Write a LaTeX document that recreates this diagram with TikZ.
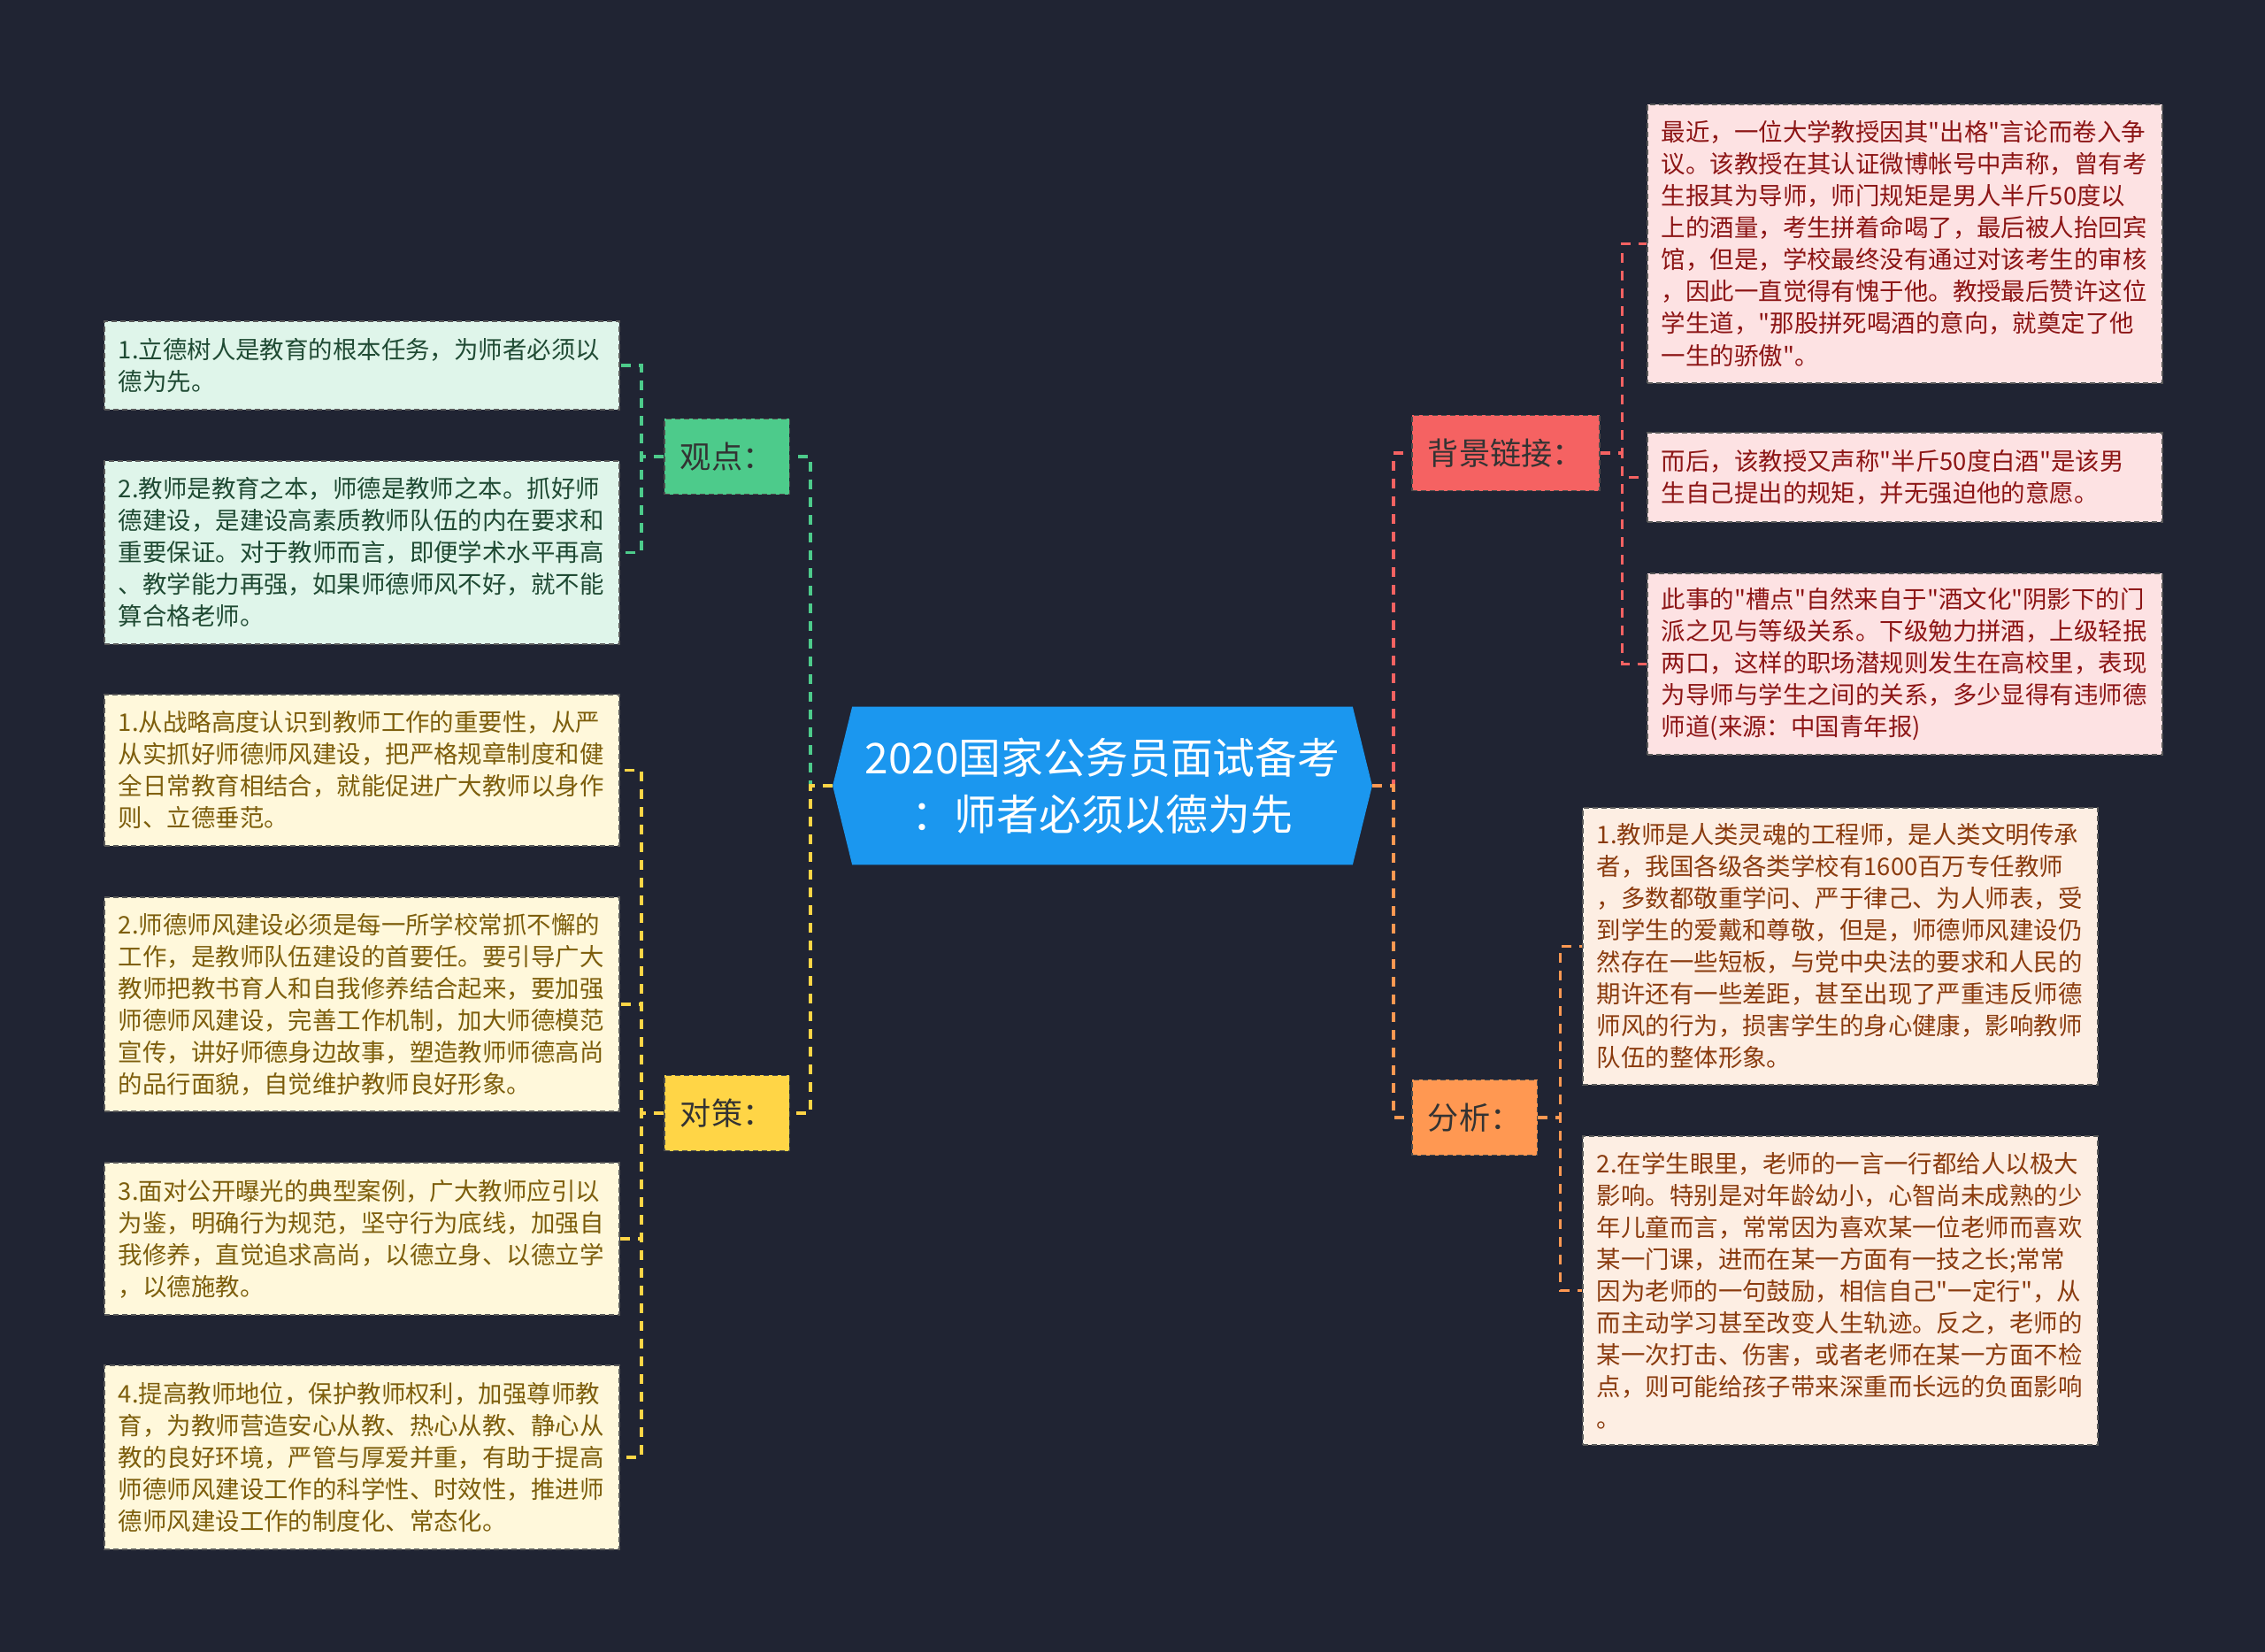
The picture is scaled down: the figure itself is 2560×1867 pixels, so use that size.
\documentclass[tikz,border=0pt]{standalone}
\usepackage{fontspec}
\newfontfamily\cjk{Noto Sans CJK SC}
\usepackage{tikz}
\usetikzlibrary{backgrounds}

\definecolor{bgnavy}{HTML}{202433}
\definecolor{rootblue}{HTML}{1B97EF}
\definecolor{gdgreen}{HTML}{4DCB8B}
\definecolor{dcyellow}{HTML}{FFD546}
\definecolor{bjred}{HTML}{F56262}
\definecolor{fxorange}{HTML}{FF9852}
\definecolor{gdleaf}{HTML}{DFF5EA}
\definecolor{dcleaf}{HTML}{FFF8DB}
\definecolor{bjleaf}{HTML}{FDE2E3}
\definecolor{fxleaf}{HTML}{FDEEE3}
\definecolor{gdtext}{HTML}{1F4A33}
\definecolor{dctext}{HTML}{7D5E0C}
\definecolor{bjtext}{HTML}{8C1515}
\definecolor{fxtext}{HTML}{8A3B0E}

\begin{document}
\begin{tikzpicture}[
    x=0.01cm, y=-0.01cm,
    root/.style={
        font=\cjk\fontsize{13.6pt}{18.2pt}\selectfont,
        text=white,
        align=center,
        minimum width=5.64cm,
        minimum height=1.77cm,
        inner sep=0pt
    },
    branch/.style={
        draw=black!70,
        dash pattern=on 0.06cm off 0.04cm,
        line width=0.55pt,
        font=\cjk\fontsize{10pt}{12pt}\selectfont,
        text=black!80,
        minimum height=0.85cm,
        inner xsep=0.18cm,
        anchor=west
    },
    leaf/.style={
        draw=black!65,
        dash pattern=on 0.06cm off 0.04cm,
        line width=0.5pt,
        font=\cjk\fontsize{7.8pt}{10.24pt}\selectfont,
        text width=5.5cm,
        align=left,
        inner xsep=0.16cm,
        anchor=north west
    },
    link/.style={
        dash pattern=on 0.11cm off 0.09cm,
        line width=0.95pt
    }
]
% Centre topic
\node[root] (root) at (1246,888) {2020国家公务员面试备考\\：师者必须以德为先};
\coordinate (rootL) at ([xshift=-0.22cm]root.west);
\coordinate (rootR) at ([xshift=0.22cm]root.east);

% Background and topic shape
\begin{scope}[on background layer]
    \fill[bgnavy] (0,0) rectangle (2560,1867);
    \fill[rootblue] (root.north west) -- (root.north east) -- (rootR)
        -- (root.south east) -- (root.south west) -- (rootL) -- cycle;
\end{scope}

% Main branches
\node[branch, fill=gdgreen] (gd) at (750,516) {观点：};
\node[branch, fill=dcyellow] (dc) at (750,1258) {对策：};
\node[branch, fill=bjred] (bj) at (1595,512) {背景链接：};
\node[branch, fill=fxorange] (fx) at (1595,1263) {分析：};

% Left leaves
\node[leaf, fill=gdleaf, text=gdtext, minimum height=1.00cm] (gd1) at (117,362)
    {1.立德树人是教育的根本任务，为师者必须以\\德为先。};
\node[leaf, fill=gdleaf, text=gdtext, minimum height=2.07cm] (gd2) at (117,520)
    {2.教师是教育之本，师德是教师之本。抓好师\\德建设，是建设高素质教师队伍的内在要求和\\重要保证。对于教师而言，即便学术水平再高\\、教学能力再强，如果师德师风不好，就不能\\算合格老师。};
\node[leaf, fill=dcleaf, text=dctext, minimum height=1.71cm] (dc1) at (117,784)
    {1.从战略高度认识到教师工作的重要性，从严\\从实抓好师德师风建设，把严格规章制度和健\\全日常教育相结合，就能促进广大教师以身作\\则、立德垂范。};
\node[leaf, fill=dcleaf, text=dctext, minimum height=2.42cm] (dc2) at (117,1013)
    {2.师德师风建设必须是每一所学校常抓不懈的\\工作，是教师队伍建设的首要任。要引导广大\\教师把教书育人和自我修养结合起来，要加强\\师德师风建设，完善工作机制，加大师德模范\\宣传，讲好师德身边故事，塑造教师师德高尚\\的品行面貌，自觉维护教师良好形象。};
\node[leaf, fill=dcleaf, text=dctext, minimum height=1.72cm] (dc3) at (117,1313)
    {3.面对公开曝光的典型案例，广大教师应引以\\为鉴，明确行为规范，坚守行为底线，加强自\\我修养，直觉追求高尚，以德立身、以德立学\\，以德施教。};
\node[leaf, fill=dcleaf, text=dctext, minimum height=2.08cm] (dc4) at (117,1542)
    {4.提高教师地位，保护教师权利，加强尊师教\\育，为教师营造安心从教、热心从教、静心从\\教的良好环境，严管与厚爱并重，有助于提高\\师德师风建设工作的科学性、时效性，推进师\\德师风建设工作的制度化、常态化。};

% Right leaves
\node[leaf, fill=bjleaf, text=bjtext, minimum height=3.15cm] (bj1) at (1861,117)
    {最近，一位大学教授因其"出格"言论而卷入争\\议。该教授在其认证微博帐号中声称，曾有考\\生报其为导师，师门规矩是男人半斤50度以\\上的酒量，考生拼着命喝了，最后被人抬回宾\\馆，但是，学校最终没有通过对该考生的审核\\，因此一直觉得有愧于他。教授最后赞许这位\\学生道，"那股拼死喝酒的意向，就奠定了他\\一生的骄傲"。};
\node[leaf, fill=bjleaf, text=bjtext, minimum height=1.01cm] (bj2) at (1861,488)
    {而后，该教授又声称"半斤50度白酒"是该男\\生自己提出的规矩，并无强迫他的意愿。};
\node[leaf, fill=bjleaf, text=bjtext, minimum height=2.05cm] (bj3) at (1861,647)
    {此事的"槽点"自然来自于"酒文化"阴影下的门\\派之见与等级关系。下级勉力拼酒，上级轻抿\\两口，这样的职场潜规则发生在高校里，表现\\为导师与学生之间的关系，多少显得有违师德\\师道(来源：中国青年报)};
\node[leaf, fill=fxleaf, text=fxtext, minimum height=3.13cm] (fx1) at (1788,912)
    {1.教师是人类灵魂的工程师，是人类文明传承\\者，我国各级各类学校有1600百万专任教师\\，多数都敬重学问、严于律己、为人师表，受\\到学生的爱戴和尊敬，但是，师德师风建设仍\\然存在一些短板，与党中央法的要求和人民的\\期许还有一些差距，甚至出现了严重违反师德\\师风的行为，损害学生的身心健康，影响教师\\队伍的整体形象。};
\node[leaf, fill=fxleaf, text=fxtext, minimum height=3.49cm] (fx2) at (1788,1283)
    {2.在学生眼里，老师的一言一行都给人以极大\\影响。特别是对年龄幼小，心智尚未成熟的少\\年儿童而言，常常因为喜欢某一位老师而喜欢\\某一门课，进而在某一方面有一技之长;常常\\因为老师的一句鼓励，相信自己"一定行"，从\\而主动学习甚至改变人生轨迹。反之，老师的\\某一次打击、伤害，或者老师在某一方面不检\\点，则可能给孩子带来深重而长远的负面影响\\。};

% Connectors from the centre
\draw[link, gdgreen] (rootL) -- ++(-25,0) |- (gd.east);
\draw[link, dcyellow] (rootL) -- ++(-25,0) |- (dc.east);
\draw[link, bjred] (rootR) -- ++(24,0) |- (bj.west);
\draw[link, fxorange] (rootR) -- ++(24,0) |- (fx.west);

% Connectors to the leaves
\foreach \n in {gd1,gd2}
    \draw[link, gdgreen] (gd.west) -- ++(-25,0) |- (\n.east);
\foreach \n in {dc1,dc2,dc3,dc4}
    \draw[link, dcyellow] (dc.west) -- ++(-25,0) |- (\n.east);
\foreach \n in {bj1,bj2,bj3}
    \draw[link, bjred] (bj.east) -- ++(25,0) |- (\n.west);
\foreach \n in {fx1,fx2}
    \draw[link, fxorange] (fx.east) -- ++(25,0) |- (\n.west);
\end{tikzpicture}
\end{document}
